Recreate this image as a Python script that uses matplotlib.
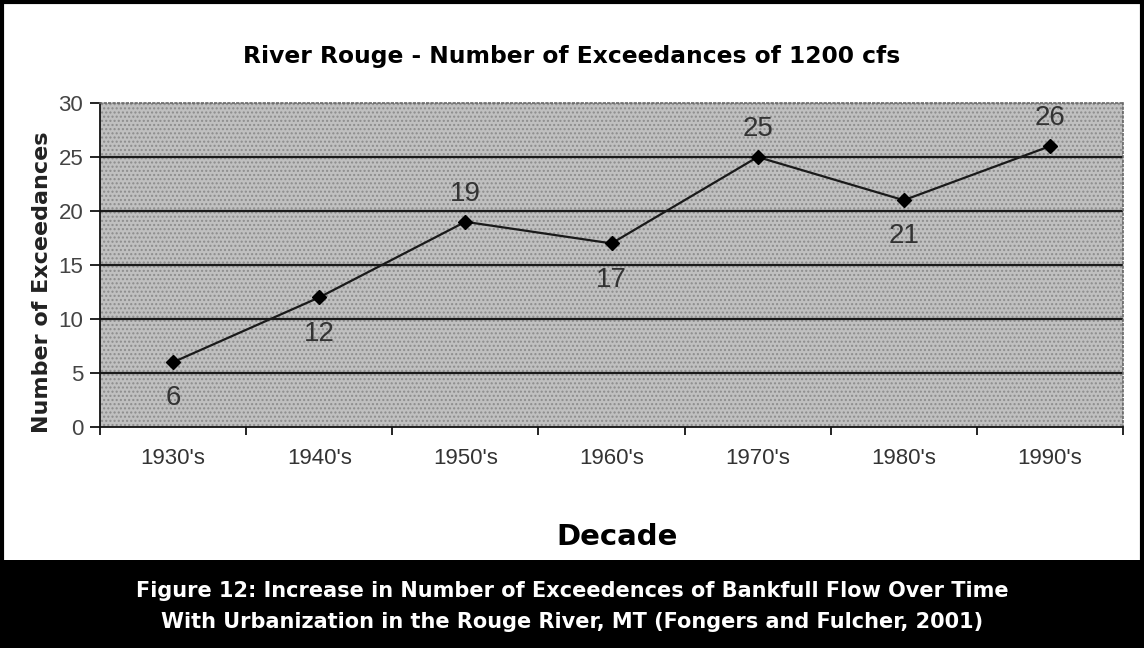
import numpy as np
import matplotlib.pyplot as plt
from matplotlib.patches import Rectangle

# data
decades = ["1930's", "1940's", "1950's", "1960's", "1970's", "1980's", "1990's"]
exceedances = [6, 12, 19, 17, 25, 21, 26]
label_pos = ['below', 'below', 'above', 'below', 'above', 'below', 'above']

W, H = 1144, 648
fig = plt.figure(figsize=(W / 100, H / 100), dpi=100)
fig.patch.set_facecolor('white')

# plot area in pixels: left 100, right 1123, top 103, bottom 427
ax = fig.add_axes([100 / W, 1 - 427 / H, 1023 / W, 324 / H])
ax.set_facecolor('#c0c0c0')
ax.add_patch(Rectangle((0, 0), 1, 1, transform=ax.transAxes, facecolor='none',
                       edgecolor='#8c8c8c', hatch='....', linewidth=0, zorder=0))

x = np.arange(len(decades))
ax.set_xlim(-0.5, len(decades) - 0.5)
ax.set_ylim(0, 30)
ax.set_yticks(range(0, 31, 5))
for yv in range(5, 30, 5):
    ax.axhline(yv, color='#1a1a1a', lw=1.6, zorder=1)

ax.plot(x, exceedances, color='#1a1a1a', lw=1.6, marker='D', markersize=7,
        markerfacecolor='black', markeredgecolor='black', zorder=3)

# data labels: above ~28px, below ~36px from the point
for xi, yi, pos in zip(x, exceedances, label_pos):
    off = 20 if pos == 'above' else -26
    ax.annotate(str(yi), (xi, yi), xytext=(0, off), textcoords='offset points',
                ha='center', va='center', fontsize=20, color='#333333',
                family='Liberation Sans', zorder=4)

# category ticks sit between categories
ax.set_xticks(np.arange(-0.5, len(decades), 1.0))
ax.set_xticklabels([])
ax.set_xticks(x, minor=True)
ax.set_xticklabels(decades, minor=True, fontsize=16, family='Liberation Sans', color='#333333')
ax.tick_params(axis='x', which='minor', length=0, pad=15)
ax.tick_params(axis='x', which='major', length=6, width=1.2, direction='out')
ax.tick_params(axis='y', length=7, width=1.2, direction='out', pad=5, labelsize=16, labelcolor='#444444')
for t in ax.get_yticklabels():
    t.set_family('Liberation Sans')

ax.spines['left'].set_color('#111111')
ax.spines['left'].set_linewidth(1.3)
ax.spines['bottom'].set_color('#111111')
ax.spines['bottom'].set_linewidth(1.3)
for s in ['top', 'right']:
    ax.spines[s].set_color('#666666')
    ax.spines[s].set_linestyle(':')
    ax.spines[s].set_linewidth(1.2)

# texts
fig.text(572 / W, 1 - 57 / H, 'River Rouge - Number of Exceedances of 1200 cfs', ha='center', va='center',
         fontsize=16.8, fontweight='bold', family='DejaVu Sans')
fig.text(42 / W, 1 - 282 / H, 'Number of Exceedances', rotation=90, ha='center', va='center',
         fontsize=16, fontweight='bold', family='DejaVu Sans', color='#222222')
fig.text(617 / W, 1 - 537 / H, 'Decade', ha='center', va='center',
         fontsize=21, fontweight='bold', family='DejaVu Sans')

# caption band and outer frame
fig.patches.append(Rectangle((0, 0), 1, 1 - 560 / H, transform=fig.transFigure,
                             facecolor='black', edgecolor='none', zorder=0))
fig.patches.append(Rectangle((2 / W, 2 / H), 1 - 4 / W, 1 - 4 / H, transform=fig.transFigure,
                             facecolor='none', edgecolor='black', lw=3, zorder=5))
fig.text(0.5, 1 - 591 / H, 'Figure 12: Increase in Number of Exceedences of Bankfull Flow Over Time',
         ha='center', va='center', color='white', fontsize=15, fontweight='bold', family='DejaVu Sans')
fig.text(0.5, 1 - 622 / H, 'With Urbanization in the Rouge River, MT (Fongers and Fulcher, 2001)',
         ha='center', va='center', color='white', fontsize=15, fontweight='bold', family='DejaVu Sans')

fig.savefig('out.png', dpi=100)
